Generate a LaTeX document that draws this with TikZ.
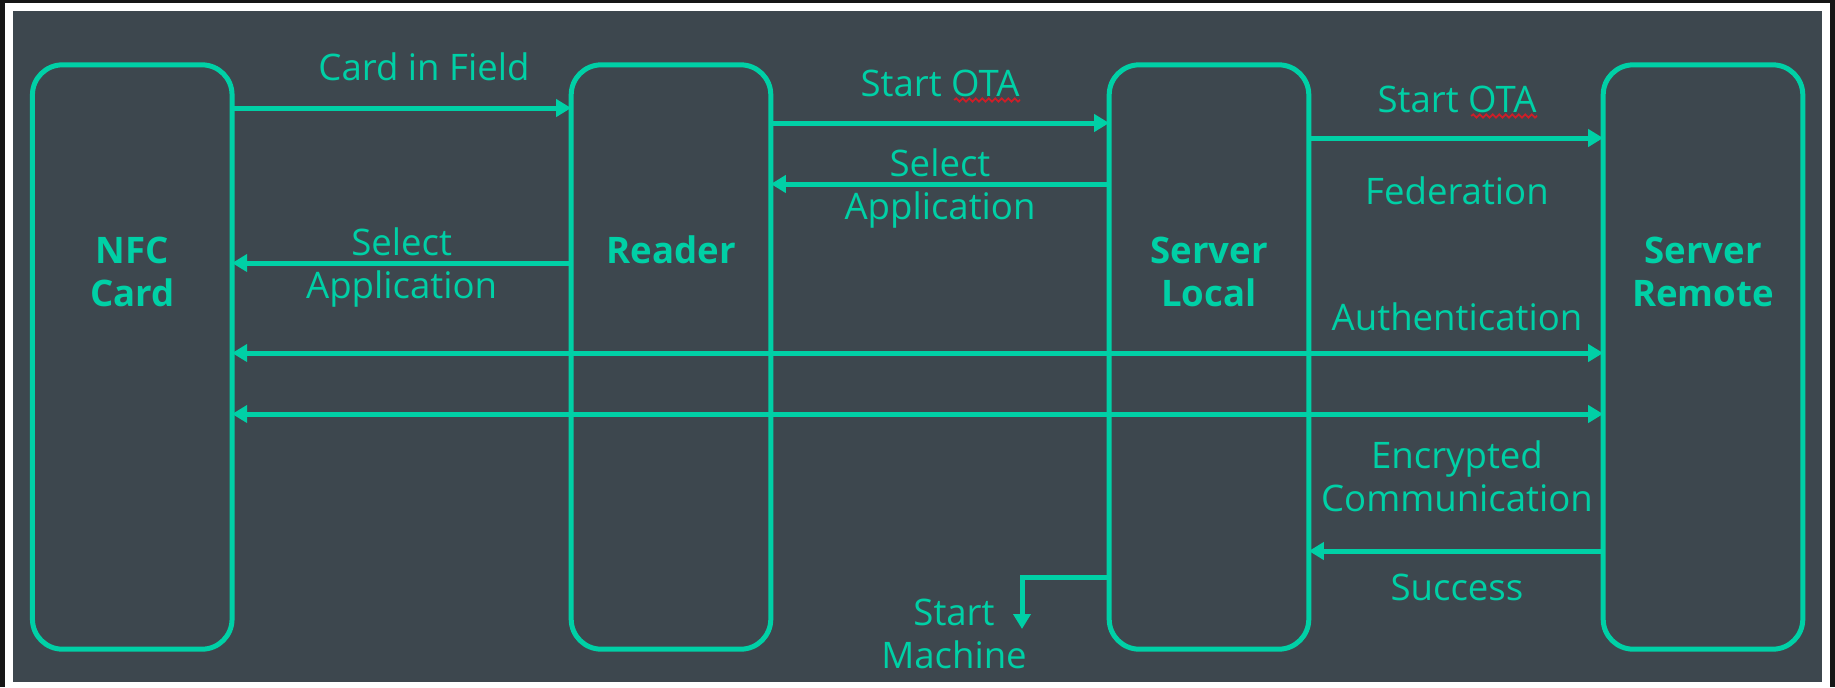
\documentclass[tikz,border=0pt]{standalone}
\usepackage{fontspec}
\setmainfont{Open Sans}
\usepackage{tikz}
\usetikzlibrary{positioning,arrows.meta,calc,decorations.pathmorphing}
\definecolor{otaBack}{RGB}{61,71,78}
\definecolor{otaTeal}{RGB}{0,208,166}
\definecolor{otaEdge}{RGB}{22,22,22}
\definecolor{otaSpell}{RGB}{205,30,40}

\begin{document}
\begin{tikzpicture}[x=0.01cm, y=0.01cm,
  >={Triangle[length=0.15cm, width=0.17cm]},
  party/.style={draw=otaTeal, line width=1.42pt, rounded corners=0.3cm,
    minimum width=1.995cm, minimum height=5.84cm, inner sep=0pt, outer sep=0pt},
  partylbl/.style={text=otaTeal, align=center, inner sep=0pt,
    font=\fontsize{10.4}{12.4}\selectfont\bfseries},
  msg/.style={draw=otaTeal, line width=1.42pt, ->},
  msgtxt/.style={text=otaTeal, align=center, inner sep=0pt,
    font=\fontsize{10.4}{12.2}\selectfont},
  spell/.style={draw=otaSpell, line width=0.5pt, decorate,
    decoration={snake, segment length=0.065cm, amplitude=0.016cm}}]

  % Frame and background
  \fill[otaEdge] (0,0) rectangle (1835,-687);
  \fill[white] (4.7,-3.3) rectangle (1830,-687);
  \fill[otaBack] (12.7,-11) rectangle (1822,-682);
  \useasboundingbox (0,0) rectangle (1835,-687);

  % Parties
  \node[party] (nfc) at (132.25,-357) {};
  \node[party] (reader) at (671,-357) {};
  \node[party] (local) at (1209,-357) {};
  \node[party] (remote) at (1703,-357) {};

  \node[partylbl] (nfclbl) at (nfc.north |- 0,-272) {NFC\\Card};
  \node[partylbl] (readerlbl) at (reader.north |- 0,-250) {Reader};
  \node[partylbl] (locallbl) at (local.north |- 0,-272) {Server\\Local};
  \node[partylbl] (remotelbl) at (remote.north |- 0,-272) {Server\\Remote};

  % Card and reader
  \draw[msg] (nfc.east |- 0,-108) -- (reader.west |- 0,-108);
  \node[msgtxt, anchor=base] (field) at (424,-80) {Card in Field};
  \draw[msg] (reader.west |- 0,-263) -- node[msgtxt, yshift=-0.045cm] (sel1) {Select\\Application} (nfc.east |- 0,-263);

  % Reader and local server
  \draw[msg] (reader.east |- 0,-123) -- (local.west |- 0,-123);
  \node[msgtxt, anchor=base] (ota1) at (940,-96) {Start OTA};
  \draw[spell] ([shift={(-66,-4)}]ota1.base east) -- ([shift={(0,-4)}]ota1.base east);
  \draw[msg] (local.west |- 0,-184) -- node[msgtxt, yshift=-0.045cm] (sel2) {Select\\Application} (reader.east |- 0,-184);

  % Local and remote server
  \draw[msg] (local.east |- 0,-138) -- (remote.west |- 0,-138);
  \node[msgtxt, anchor=base] (ota2) at (1457,-112) {Start OTA};
  \draw[spell] ([shift={(-66,-4)}]ota2.base east) -- ([shift={(0,-4)}]ota2.base east);
  \node[msgtxt, anchor=base] (fed) at (1457,-204) {Federation};
  \node[msgtxt, anchor=base] (auth) at (1457,-330) {Authentication};

  % Card and remote server
  \draw[msg, <->] (nfc.east |- 0,-353) -- (remote.west |- 0,-353);
  \draw[msg, <->] (nfc.east |- 0,-414) -- (remote.west |- 0,-414);
  \node[msgtxt] (enc) at (1457,-476) {Encrypted\\Communication};

  \draw[msg] (remote.west |- 0,-551) -- (local.east |- 0,-551);
  \node[msgtxt, anchor=base] (ok) at (1457,-600) {Success};

  % Machine
  \coordinate (mstop) at (1022,-629);
  \draw[msg] (local.west |- 0,-577) -| (mstop);
  \node[msgtxt] (machine) at (954,-634) {Start\\Machine};
\end{tikzpicture}
\end{document}
